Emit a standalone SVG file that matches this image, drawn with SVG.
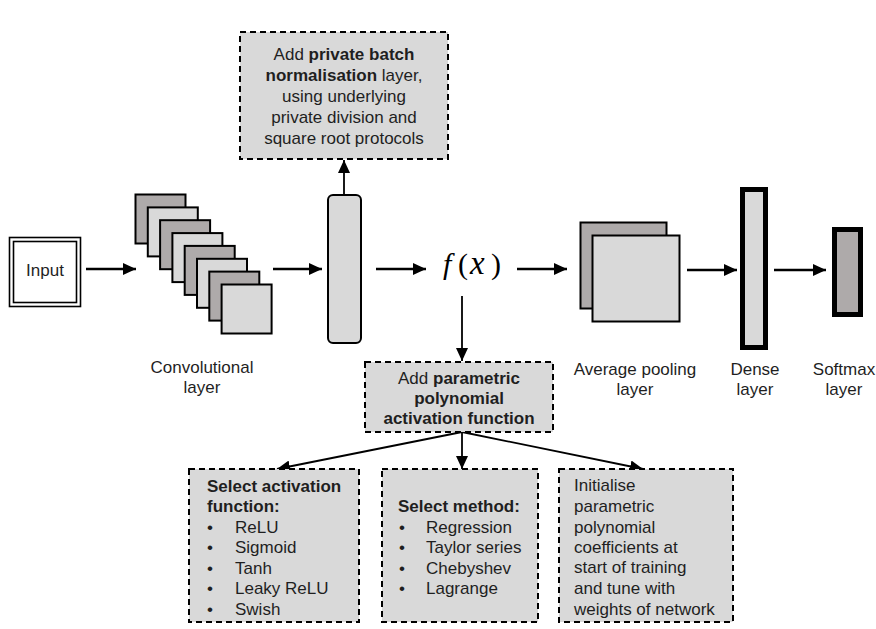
<svg xmlns="http://www.w3.org/2000/svg" width="876" height="629" viewBox="0 0 876 629">
  <defs>
    <marker id="ah" markerUnits="userSpaceOnUse" markerWidth="13" markerHeight="12" refX="13" refY="6" orient="auto">
      <path d="M0,0 L13,6 L0,12 z" fill="#000"/>
    </marker>
    <style>
      text { font-family: "Liberation Sans", Arial, sans-serif; font-size: 17px; fill: #1f1f1f; }
      .c { text-anchor: middle; }
      .b { font-weight: bold; }
      .dash { fill: #d9d9d9; stroke: #000; stroke-width: 2; stroke-dasharray: 6 4; }
      .lt { fill: #d9d9d9; stroke: #000; stroke-width: 2; }
      .dk { fill: #aeaaaa; stroke: #000; stroke-width: 2; }
      .thick { stroke: #000; stroke-width: 2.6; fill: none; }
      .thin { stroke: #000; stroke-width: 1.8; fill: none; }
      .math { font-family: "Liberation Serif", "DejaVu Serif", serif; font-size: 30px; fill: #000; }
    </style>
  </defs>

  <rect width="876" height="629" fill="#fff"/>

  <!-- connectors -->
  <g id="connectors">
    <line class="thick" x1="86" y1="269" x2="136" y2="269" marker-end="url(#ah)"/>
    <line class="thick" x1="273" y1="269" x2="322" y2="269" marker-end="url(#ah)"/>
    <line class="thick" x1="376" y1="269" x2="426" y2="269" marker-end="url(#ah)"/>
    <line class="thick" x1="517" y1="269" x2="567" y2="269" marker-end="url(#ah)"/>
    <line class="thick" x1="687" y1="270" x2="737" y2="270" marker-end="url(#ah)"/>
    <line class="thick" x1="774" y1="270" x2="826" y2="270" marker-end="url(#ah)"/>
    <line class="thin" x1="344" y1="195" x2="344" y2="160" marker-end="url(#ah)"/>
    <line class="thin" x1="462" y1="296" x2="462" y2="361" marker-end="url(#ah)"/>
    <line class="thin" x1="462" y1="432" x2="277" y2="469" marker-end="url(#ah)"/>
    <line class="thin" x1="462" y1="432" x2="462" y2="469" marker-end="url(#ah)"/>
    <line class="thin" x1="462" y1="432" x2="643" y2="469" marker-end="url(#ah)"/>
  </g>

  <!-- input -->
  <g id="input">
    <rect x="9.5" y="237.5" width="71" height="69" fill="#fff" stroke="#000" stroke-width="1.6"/>
    <rect x="13.5" y="241.5" width="63" height="61" fill="none" stroke="#000" stroke-width="1.6"/>
    <text class="c" x="45" y="276">Input</text>
  </g>

  <!-- convolutional layer: stacked feature maps -->
  <g id="conv">
    <rect class="dk" x="135.5" y="194.5" width="50" height="49"/>
    <rect class="lt" x="147.8" y="207.4" width="50" height="49"/>
    <rect class="dk" x="160.1" y="220.2" width="50" height="49"/>
    <rect class="lt" x="172.4" y="233.1" width="50" height="49"/>
    <rect class="dk" x="184.7" y="245.9" width="50" height="49"/>
    <rect class="lt" x="197.0" y="258.8" width="50" height="49"/>
    <rect class="dk" x="209.3" y="271.6" width="50" height="49"/>
    <rect class="lt" x="221.6" y="284.5" width="50" height="49"/>
    <text class="c" x="202" y="373">Convolutional</text>
    <text class="c" x="202" y="393">layer</text>
  </g>

  <!-- batch normalisation layer -->
  <g id="batchnorm">
    <rect class="lt" x="328" y="195" width="33" height="148" rx="5"/>
  </g>

  <g id="batchnorm-note">
    <rect class="dash" x="240" y="32" width="208" height="127"/>
    <text class="c" x="344" y="60">Add <tspan class="b">private batch</tspan></text>
    <text class="c" x="344" y="81"><tspan class="b">normalisation</tspan> layer,</text>
    <text class="c" x="344" y="102">using underlying</text>
    <text class="c" x="344" y="123">private division and</text>
    <text class="c" x="344" y="144">square root protocols</text>
  </g>

  <!-- activation -->
  <g id="activation">
    <text class="math" y="274"><tspan x="443" font-style="italic">f</tspan><tspan x="458">(</tspan><tspan x="470" font-style="italic" font-size="33">x</tspan><tspan x="491">)</tspan></text>
  </g>

  <g id="activation-note">
    <rect class="dash" x="365" y="362" width="188" height="70"/>
    <text class="c" x="459" y="384">Add <tspan class="b">parametric</tspan></text>
    <text class="c b" x="459" y="404">polynomial</text>
    <text class="c b" x="459" y="424">activation function</text>
  </g>

  <!-- average pooling -->
  <g id="avgpool">
    <rect class="dk" x="580.5" y="222.5" width="86" height="86"/>
    <rect class="lt" x="592.5" y="235.5" width="87" height="86"/>
    <text class="c" x="635" y="375">Average pooling</text>
    <text class="c" x="635" y="395">layer</text>
  </g>

  <!-- dense -->
  <g id="dense">
    <rect x="742.5" y="189.5" width="23" height="158" fill="#d9d9d9" stroke="#000" stroke-width="5"/>
    <text class="c" x="755" y="375">Dense</text>
    <text class="c" x="755" y="395">layer</text>
  </g>

  <!-- softmax -->
  <g id="softmax">
    <rect x="834.5" y="229.5" width="26" height="85" fill="#aeaaaa" stroke="#000" stroke-width="5"/>
    <text class="c" x="844" y="375">Softmax</text>
    <text class="c" x="844" y="395">layer</text>
  </g>

  <!-- option boxes -->
  <g id="select-activation">
    <rect class="dash" x="189" y="469" width="170" height="153"/>
    <text class="b" x="207" y="492">Select activation</text>
    <text class="b" x="207" y="512">function:</text>
    <text x="207" y="533">•</text><text x="235" y="533">ReLU</text>
    <text x="207" y="553">•</text><text x="235" y="553">Sigmoid</text>
    <text x="207" y="574">•</text><text x="235" y="574">Tanh</text>
    <text x="207" y="594">•</text><text x="235" y="594">Leaky ReLU</text>
    <text x="207" y="615">•</text><text x="235" y="615">Swish</text>
  </g>

  <g id="select-method">
    <rect class="dash" x="382" y="469" width="156" height="153"/>
    <text class="b" x="398" y="512">Select method:</text>
    <text x="399" y="533">•</text><text x="426" y="533">Regression</text>
    <text x="399" y="553">•</text><text x="426" y="553">Taylor series</text>
    <text x="399" y="574">•</text><text x="426" y="574">Chebyshev</text>
    <text x="399" y="594">•</text><text x="426" y="594">Lagrange</text>
  </g>

  <g id="initialise">
    <rect class="dash" x="559" y="469" width="174" height="153"/>
    <text x="574" y="491">Initialise</text>
    <text x="574" y="512">parametric</text>
    <text x="574" y="533">polynomial</text>
    <text x="574" y="553">coefficients at</text>
    <text x="574" y="573">start of training</text>
    <text x="574" y="594">and tune with</text>
    <text x="574" y="615">weights of network</text>
  </g>
</svg>
